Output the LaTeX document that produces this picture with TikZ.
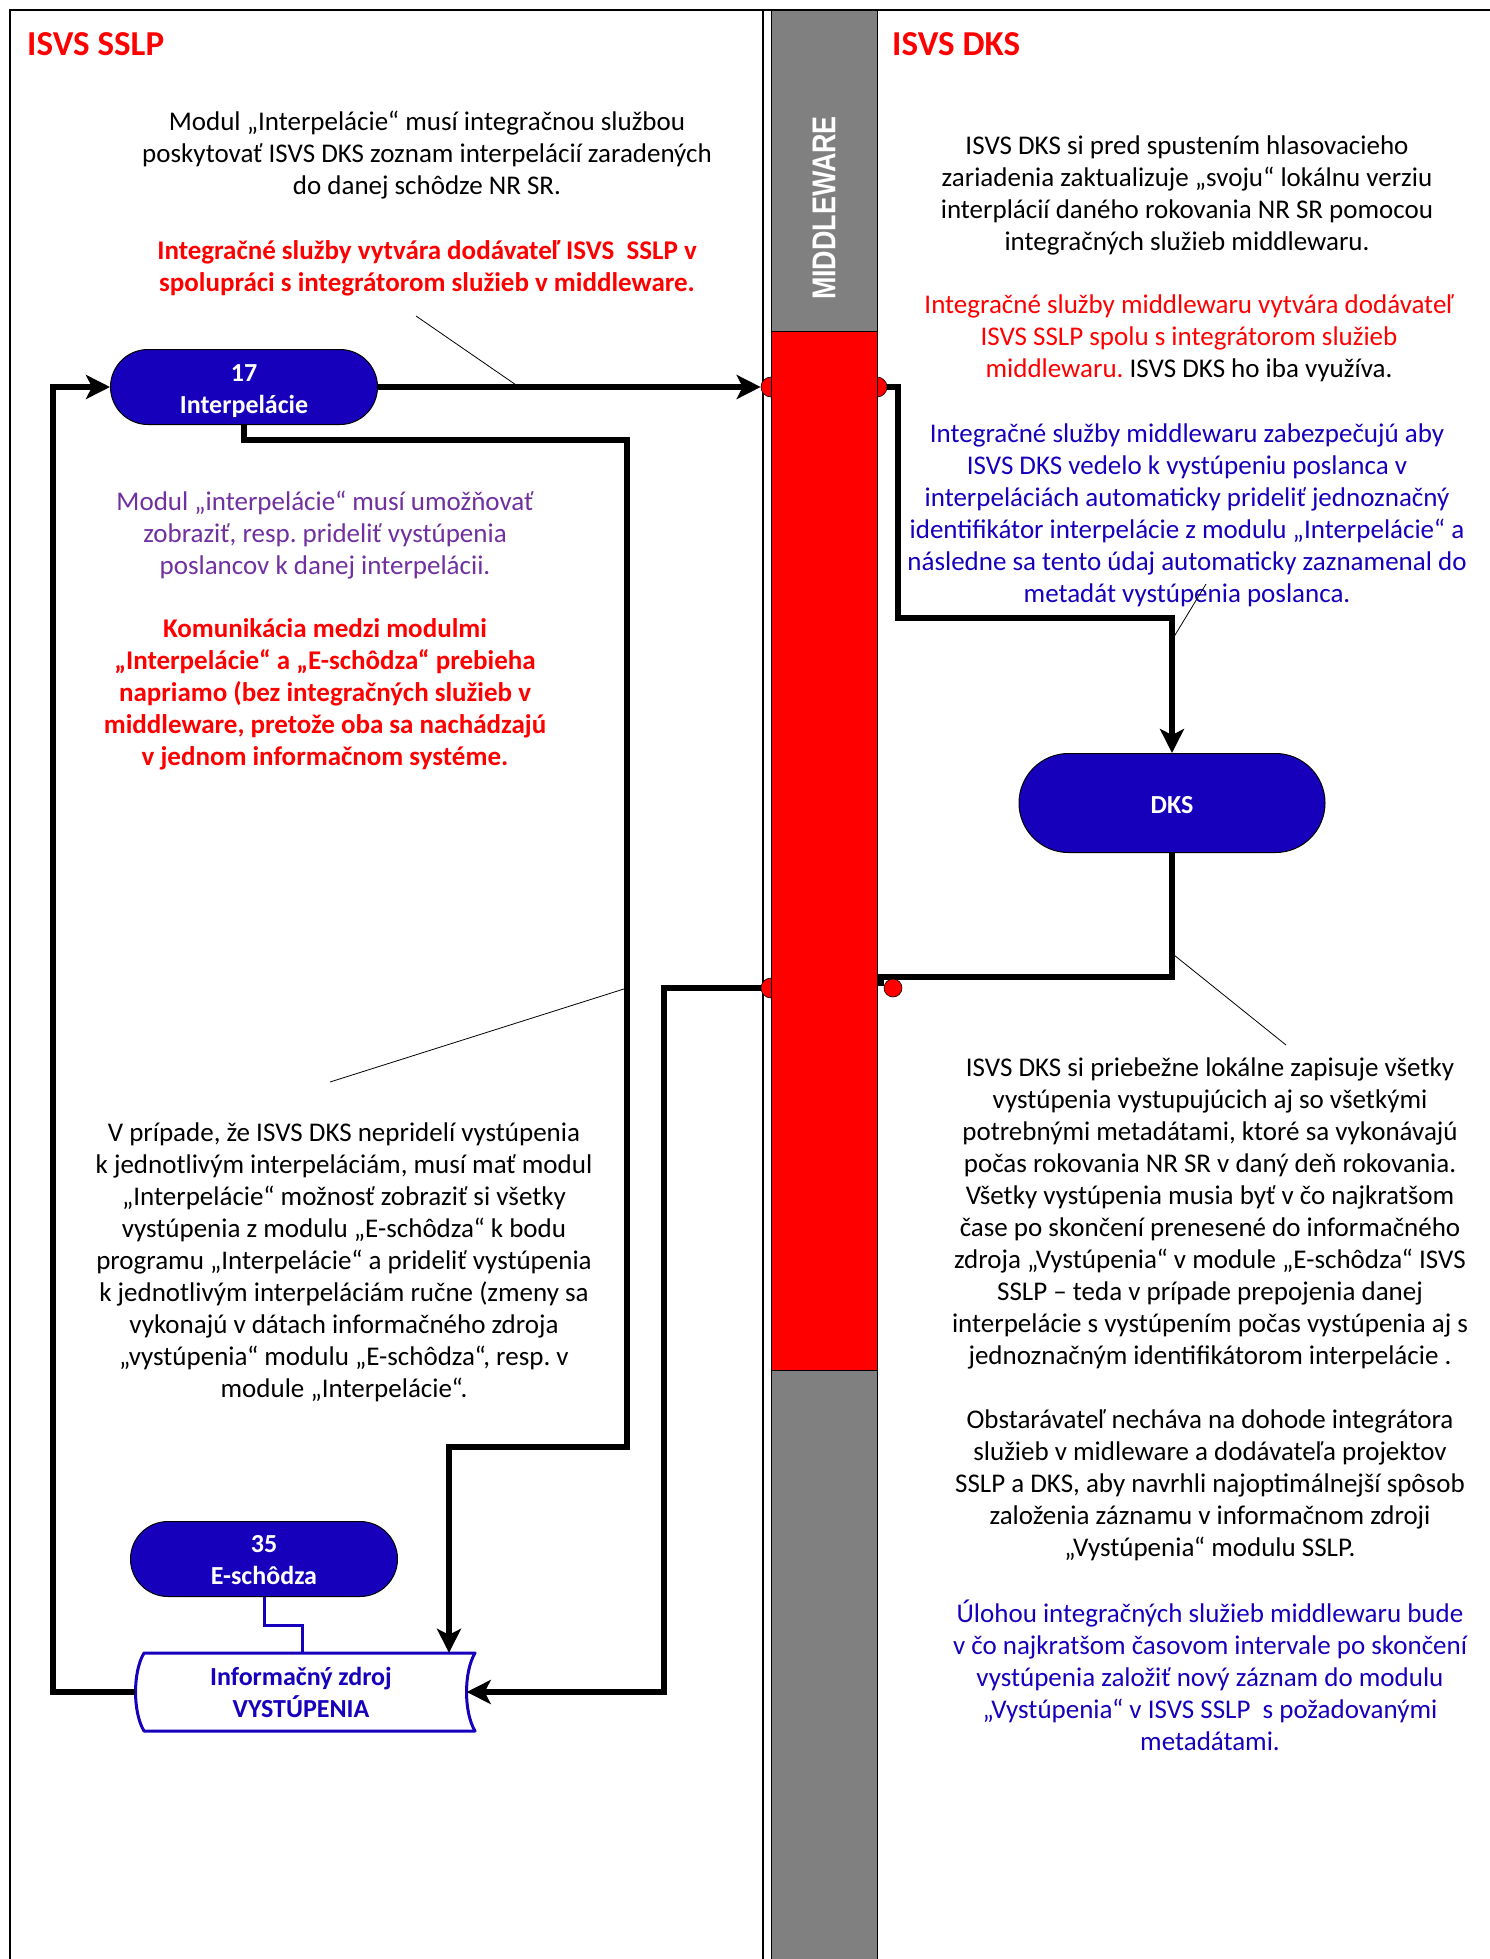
\documentclass[tikz,border=0pt]{standalone}
\usepackage{fontspec}
\setmainfont{Carlito}
\newfontfamily\mwfont{Liberation Sans}
\usetikzlibrary{arrows.meta,shapes.misc}
\definecolor{nodeblue}{RGB}{23,0,187}
\definecolor{purp}{RGB}{112,48,160}
\definecolor{mwgray}{RGB}{128,128,128}
\newcommand{\lowtext}[2]{\raisebox{-#1}[\height][\depth]{\begin{tabular}{@{}c@{}}#2\end{tabular}}}
\begin{document}
\frenchspacing
\begin{tikzpicture}[x=1pt,y=-1pt,
  body/.style={align=center,font=\fontsize{27}{32}\selectfont,inner sep=0pt},
  hdr/.style={anchor=west,text=red,font=\fontsize{35}{40}\selectfont\bfseries,inner sep=0pt},
  stadium/.style={rounded rectangle,draw=black,line width=1pt,fill=nodeblue,text=white,
    font=\fontsize{26}{32}\selectfont\bfseries,inner sep=0pt},
  port/.style={circle,draw=black,line width=0.6pt,fill=red,minimum size=20pt,inner sep=0pt},
  wire/.style={line width=5.5pt},
  conn/.style={wire,-{Stealth[length=24pt,width=24pt,inset=6pt]}},
  leader/.style={line width=0.8pt},
]
\useasboundingbox (0,0) rectangle (1490,1959);
\fill[white] (0,0) rectangle (1490,1959);
% frame and lane divider
\draw[line width=2pt] (1490,10) -- (10,10) -- (10,1959);
\draw[line width=2pt] (763,10) -- (763,1959);
% ports on the middleware bar
\node[port] (pL1) at (771,387) {};
\node[port] (pR1) at (877,387) {};
\node[port] (pL2) at (771,988) {};
% middleware bar
\draw[line width=0.8pt,fill=mwgray] (771,10) rectangle (877,1959);
\draw[line width=0.8pt,fill=red] (771,331) rectangle (877,1370);
\node[rotate=90,text=white,inner sep=0pt] (mw) at (824,208)
  {\scalebox{0.815}[1]{\mwfont\fontsize{33}{40}\selectfont\bfseries MIDDLEWARE}};
% headers
\node[hdr] (hL) at (27,44) {ISVS SSLP};
\node[hdr] (hR) at (892,44) {ISVS DKS};
% left texts
\node[body] (t1) at (427,155) {Modul „Interpelácie“ musí integračnou službou\\
poskytovať ISVS DKS zoznam interpelácií zaradených\\
do danej schôdze NR SR.};
\node[body,text=red,font=\fontsize{27}{32}\selectfont\bfseries] (t2) at (427,268)
 {Integračné služby vytvára dodávateľ ISVS\ \ SSLP v\\
spolupráci s integrátorom služieb v middleware.};
\node[body,text=purp] (t3) at (325,535) {Modul „interpelácie“ musí umožňovať\\
zobraziť, resp. prideliť vystúpenia\\
poslancov k danej interpelácii.};
\node[body,text=red,font=\fontsize{27}{32}\selectfont\bfseries] (t4) at (325,694)
 {Komunikácia medzi modulmi\\
„Interpelácie“ a „E-schôdza“ prebieha\\
napriamo (bez integračných služieb v\\
middleware, pretože oba sa nachádzajú\\
v jednom informačnom systéme.};
\node[body] (t5) at (344,1262) {V prípade, že ISVS DKS nepridelí vystúpenia\\
k jednotlivým interpeláciám, musí mať modul\\
„Interpelácie“ možnosť zobraziť si všetky\\
vystúpenia z modulu „E-schôdza“ k bodu\\
programu „Interpelácie“ a prideliť vystúpenia\\
k jednotlivým interpeláciám ručne (zmeny sa\\
vykonajú v dátach informačného zdroja\\
„vystúpenia“ modulu „E-schôdza“, resp. v\\
module „Interpelácie“.};
% right texts
\node[body] (r1) at (1187,195) {ISVS DKS si pred spustením hlasovacieho\\
zariadenia zaktualizuje „svoju“ lokálnu verziu\\
interplácií daného rokovania NR SR pomocou\\
integračných služieb middlewaru.};
\node[body,text=red] (r2) at (1189,338) {Integračné služby middlewaru vytvára dodávateľ\\
ISVS SSLP spolu s integrátorom služieb\\
middlewaru. {\color{black}ISVS DKS ho iba využíva.}};
\node[body,text=nodeblue] (r3) at (1187,515) {Integračné služby middlewaru zabezpečujú aby\\
ISVS DKS vedelo k vystúpeniu poslanca v\\
interpeláciách automaticky prideliť jednoznačný\\
identifikátor interpelácie z modulu „Interpelácie“ a\\
následne sa tento údaj automaticky zaznamenal do\\
metadát vystúpenia poslanca.};
\node[body] (r4) at (1210,1213) {ISVS DKS si priebežne lokálne zapisuje všetky\\
vystúpenia vystupujúcich aj so všetkými\\
potrebnými metadátami, ktoré sa vykonávajú\\
počas rokovania NR SR v daný deň rokovania.\\
Všetky vystúpenia musia byť v čo najkratšom\\
čase po skončení prenesené do informačného\\
zdroja „Vystúpenia“ v module „E-schôdza“ ISVS\\
SSLP – teda v prípade prepojenia danej\\
interpelácie s vystúpením počas vystúpenia aj s\\
jednoznačným identifikátorom interpelácie .};
\node[body] (r5) at (1210,1485) {Obstarávateľ necháva na dohode integrátora\\
služieb v midleware a dodávateľa projektov\\
SSLP a DKS, aby navrhli najoptimálnejší spôsob\\
založenia záznamu v informačnom zdroji\\
„Vystúpenia“ modulu SSLP.};
\node[body,text=nodeblue] (r6) at (1210,1675) {Úlohou integračných služieb middlewaru bude\\
v čo najkratšom časovom intervale po skončení\\
vystúpenia založiť nový záznam do modulu\\
„Vystúpenia“ v ISVS SSLP\ \ s požadovanými\\
metadátami.};
% flow nodes
\node[stadium,minimum width=267pt,minimum height=75pt] (n17) at (244,387) {\lowtext{4pt}{17\\Interpelácie}};
\node[stadium,minimum width=267pt,minimum height=75pt] (n35) at (264,1559) {\lowtext{3pt}{35\\E-schôdza}};
\node[stadium,minimum width=306pt,minimum height=99pt] (dks) at (1172,803) {\lowtext{4.5pt}{DKS}};
\node[align=center,text=nodeblue,font=\fontsize{26}{32}\selectfont\bfseries,inner sep=0pt,
  minimum width=331pt,minimum height=78pt] (info) at (301,1692) {Informačný zdroj\\VYSTÚPENIA};
\draw[nodeblue,line width=3pt,line join=round]
  (144,1653) -- (475,1653) .. controls (463.7,1672) and (463.7,1712) .. (475,1731)
  -- (144,1731) .. controls (132.7,1712) and (132.7,1672) .. (144,1653) -- cycle;
% connectors
\draw[conn] (n17.east) -- (pL1.west);
\draw[conn] (pR1.east) -| (898,618) -| (dks.north);
\coordinate (dkb) at (881,977);
\draw[wire] (dks.south) |- (dkb) -- ++(0,9);
\node[port,minimum size=18pt] (pR2) at (893,988) {};
\draw[conn] (pL2.west) -| (664,1300) |- (info.east);
\coordinate (b1) at (627,440);
\coordinate (b2) at (449,1447);
\draw[conn] (n17.south) |- (b1) |- (b2) -- (b2 |- info.north);
\draw[conn] (info.west) -| (53,800) |- (n17.west);
\coordinate (bb) at (302,1625);
\draw[nodeblue,line width=3pt] (n35.south) |- (bb) -- (bb |- info.north);
% leader lines
\coordinate (a1) at (416,316); \coordinate (a2) at (519,387);
\coordinate (a3) at (330,1082); \coordinate (a4) at (627,988);
\coordinate (a5) at (1206,584); \coordinate (a6) at (1172,640);
\coordinate (a7) at (1174,955); \coordinate (a8) at (1286,1045);
\draw[leader] (a1) -- (a2);
\draw[leader] (a3) -- (a4);
\draw[leader] (a5) -- (a6);
\draw[leader] (a7) -- (a8);
\end{tikzpicture}
\end{document}
